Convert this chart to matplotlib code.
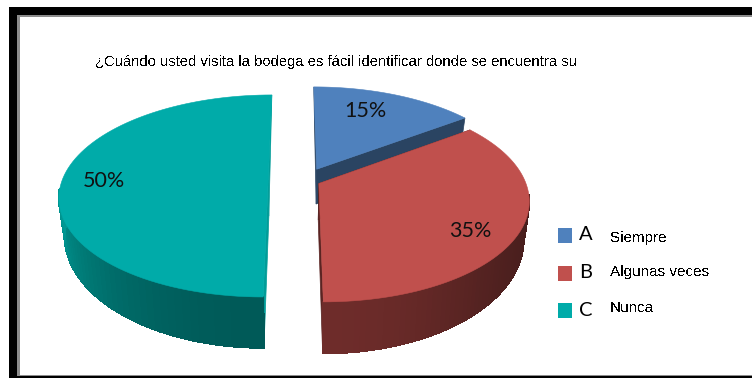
import numpy as np
import matplotlib
matplotlib.use("Agg")
import matplotlib.pyplot as plt
from matplotlib.collections import PolyCollection
from matplotlib.patches import Polygon, Rectangle

title = "¿Cuándo usted visita la bodega es fácil identificar donde se encuentra su"
letters = ["A", "B", "C"]
answers = ["Siempre", "Algunas veces", "Nunca"]
percent = [15, 35, 50]

top_colors = ["#4F81BD", "#C0504D", "#00ABA9"]
cut_colors = ["#2A4462", "#5A2422", "#009C98"]
side_light = ["#34567E", "#6E2C2A", "#00A39E"]
side_dark = ["#2A4462", "#481E1D", "#005A58"]

# desplazamiento de cada sector respecto al centro (x, y en el plano del pastel)
shift_x = [0.107, 0.115, -0.13]
shift_y = [0.111, -0.035, 0.0]

CX, CY = 295.0, 180.0
RX, RY = 206.0, 98.5
K = 0.158
DEPTH = 36.0


def project(x, y):
    s = 1 / (1 + K * y)
    return CX + RX * x * s, CY - RY * y * s, s


def lower(px, py, s):
    return CX + (px - CX) * 0.975, py + DEPTH * s ** 2


def mix(c1, c2, t):
    a = np.array(matplotlib.colors.to_rgb(c1))
    b = np.array(matplotlib.colors.to_rgb(c2))
    return tuple(a + (b - a) * t)


fig = plt.figure(figsize=(7.52, 3.78), dpi=100)
ax = fig.add_axes([0, 0, 1, 1])
ax.set_xlim(0, 752)
ax.set_ylim(378, 0)
ax.axis("off")

# marco negro con filete gris
ax.add_patch(Rectangle((9, 7), 760, 380, fc="black", ec="none", zorder=0))
ax.add_patch(Rectangle((17, 15), 760, 361, fc="#8C8C8C", ec="none", zorder=0))
ax.add_patch(Rectangle((20, 17), 760, 358, fc="white", ec="none", zorder=0))

edges = np.cumsum([0] + percent) / 100 * 2 * np.pi

# orden de pintado: azul detras, luego rojo y turquesa
for i in range(3):
    a0, a1 = edges[i], edges[i + 1]
    th = np.linspace(a0, a1, 90)
    ox, oy = shift_x[i], shift_y[i]
    px, py, s = project(ox + np.sin(th), oy + np.cos(th))
    lx, ly = lower(px, py, s)
    apx, apy, aps = project(ox, oy)
    alx, aly = lower(apx, apy, aps)

    # caras de corte; la que mira hacia atras se reduce a un triangulo
    for j in (0, -1):
        if abs(np.sin(th[j])) < 1e-6 and np.cos(th[j]) > 0:
            face = [(apx, apy), (px[j], py[j]), (alx, aly)]
        else:
            face = [(apx, apy), (px[j], py[j]), (lx[j], ly[j]), (alx, aly)]
        ax.add_patch(Polygon(face, fc=cut_colors[i], ec=cut_colors[i], lw=0.5, zorder=2 + i))

    # pared exterior con degradado segun el angulo, solo la parte delantera
    quads = []
    cols = []
    for n in range(len(th) - 1):
        if np.cos(th[n]) > -0.1:
            continue
        quads.append([(px[n], py[n]), (px[n + 1], py[n + 1]), (lx[n + 1], ly[n + 1]), (lx[n], ly[n])])
        front = np.clip((np.cos(th[n]) * -1 + 0.15) / 1.15, 0, 1)
        if i == 2:
            cols.append(mix(side_light[i], side_dark[i], front ** 1.3))
        else:
            cols.append(mix(side_dark[i], side_light[i], front ** 4))
    if quads:
        ax.add_collection(PolyCollection(quads, facecolors=cols, edgecolors=cols, linewidths=0.8,
                                         antialiaseds=False, zorder=2 + i))

    # cara superior
    pts = [(apx, apy)] + list(zip(px, py))
    ax.add_patch(Polygon(pts, fc=top_colors[i], ec=top_colors[i], lw=0.4, zorder=2 + i))

ax.text(95, 62, title, fontsize=10.58, family="Liberation Sans", color="black",
        va="center", ha="left", antialiased=False, zorder=6)

label_x = [365, 470, 104]
label_y = [111, 231, 181]
for i in range(3):
    ax.text(label_x[i], label_y[i], f"{percent[i]}%", fontsize=15.5, family="Lato", color="#111111",
            ha="center", va="center", zorder=6)

legend_y = [235, 273, 310]
answer_y = [238, 272, 308]
for i in range(3):
    ax.add_patch(Rectangle((558, legend_y[i] - 7), 14, 14.5, fc=top_colors[i], ec="none", zorder=6))
    ax.text(579, legend_y[i], letters[i], fontsize=14.5, family="Lato", color="black",
            ha="left", va="center", zorder=6)
    ax.text(610, answer_y[i], answers[i], fontsize=11, family="Liberation Sans", color="black",
            ha="left", va="center", antialiased=False, zorder=6)

fig.savefig("out.png", dpi=100)
